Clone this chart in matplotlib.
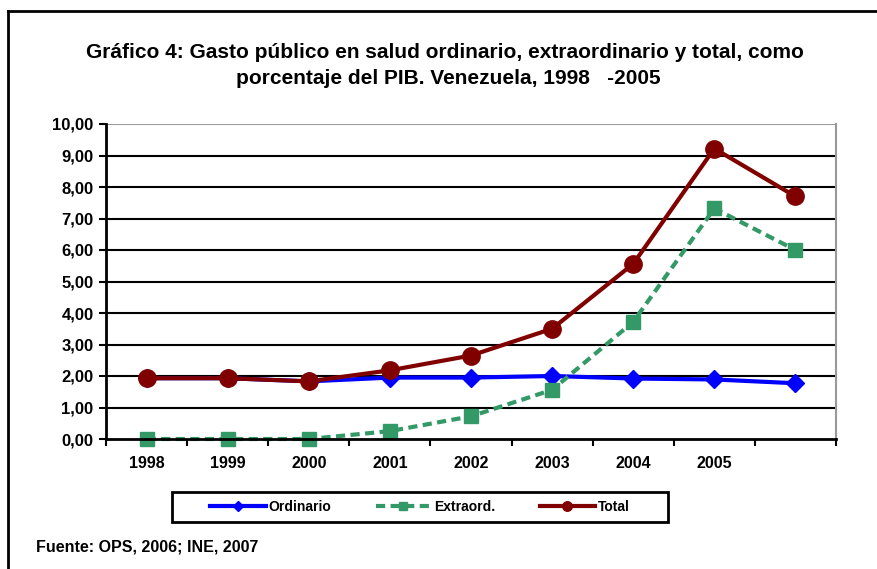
import matplotlib
matplotlib.use("Agg")
import matplotlib.pyplot as plt
from matplotlib.lines import Line2D
from matplotlib.patches import Rectangle
import numpy as np

# --- data ---
years = ["1998", "1999", "2000", "2001", "2002", "2003", "2004", "2005", ""]
ordinario = [1.93, 1.93, 1.83, 1.95, 1.95, 2.00, 1.92, 1.89, 1.77]
extraord = [0.00, 0.00, 0.00, 0.25, 0.72, 1.56, 3.72, 7.32, 6.00]
total = [1.93, 1.93, 1.83, 2.18, 2.65, 3.50, 5.56, 9.22, 7.70]
yticks = [0, 1, 2, 3, 4, 5, 6, 7, 8, 9, 10]

plt.rcParams['font.family'] = ['Liberation Sans', 'DejaVu Sans']
plt.rcParams['font.weight'] = 'bold'

W, H = 877, 569
fig = plt.figure(figsize=(W / 100, H / 100), dpi=100)
fig.patch.set_facecolor('white')

# outer frame (left and top edges only, the rest is cut off in the original)
fig.add_artist(Line2D([8 / W, 8 / W], [0, 1 - 11 / H], transform=fig.transFigure, color='black', lw=2))
fig.add_artist(Line2D([8 / W, 1], [1 - 11 / H, 1 - 11 / H], transform=fig.transFigure, color='black', lw=2))

ax = fig.add_axes([106 / W, 1 - 439 / H, 730 / W, (439 - 124) / H])
x = np.arange(len(years))

ax.plot(x, ordinario, color='#0000FF', lw=3, marker='D', markersize=9.5, zorder=3, clip_on=False, label='Ordinario')
ax.plot(x, extraord, color='#339966', lw=3, ls=(0, (2.2, 1.3)), marker='s', markersize=10, zorder=4, clip_on=False,
        label='Extraord.')
ax.plot(x, total, color='#800000', lw=3, marker='o', markersize=12.5, zorder=5, clip_on=False, label='Total')

ax.set_xlim(-0.5, len(years) - 0.5)
ax.set_ylim(0, 10)
ax.set_yticks(yticks)
ax.set_yticklabels([f"{v:.2f}".replace('.', ',') for v in yticks], fontsize=12, fontweight='bold')
ax.set_xticks(x)
ax.set_xticklabels(years, fontsize=11.5, fontweight='bold')
ax.set_xticks(np.arange(-0.5, len(years)), minor=True)
ax.tick_params(axis='x', which='major', length=0, pad=12)
ax.tick_params(axis='x', which='minor', length=5, width=1.5, direction='out')
ax.tick_params(axis='y', length=5, width=1.5, direction='out', pad=4)

for v in yticks[1:-1]:
    ax.axhline(v, color='black', lw=1.5, zorder=1)
ax.axhline(10, color='#999999', lw=1.5, zorder=1)

ax.spines['left'].set_linewidth(2)
ax.spines['bottom'].set_linewidth(2)
ax.spines['left'].set_zorder(6)
ax.spines['bottom'].set_zorder(6)
ax.spines['top'].set_visible(False)
ax.spines['right'].set_color('#999999')
ax.spines['right'].set_linewidth(1.5)

fig.text(445 / W, 1 - 52 / H, "Gráfico 4: Gasto público en salud ordinario, extraordinario y total, como",
         ha='center', va='center', fontsize=15, fontweight='bold')
fig.text(448 / W, 1 - 78 / H, "porcentaje del PIB. Venezuela, 1998   -2005",
         ha='center', va='center', fontsize=15, fontweight='bold')

# legend box drawn separately so its padding can match the original
fig.add_artist(Rectangle((172 / W, 1 - 522 / H), (668 - 172) / W, 30 / H, transform=fig.transFigure,
                         fill=False, edgecolor='black', lw=2))
leg = fig.legend(loc='center', bbox_to_anchor=(420 / W, 1 - 507 / H), ncol=3, frameon=False,
                 fontsize=10, handlelength=4.0, handletextpad=0.2, columnspacing=3.2,
                 markerscale=0.55)

fig.text(36 / W, 1 - 547 / H, "Fuente: OPS, 2006; INE, 2007", ha='left', va='center', fontsize=11.5, fontweight='bold')

fig.savefig("out.png", dpi=100, facecolor='white')
